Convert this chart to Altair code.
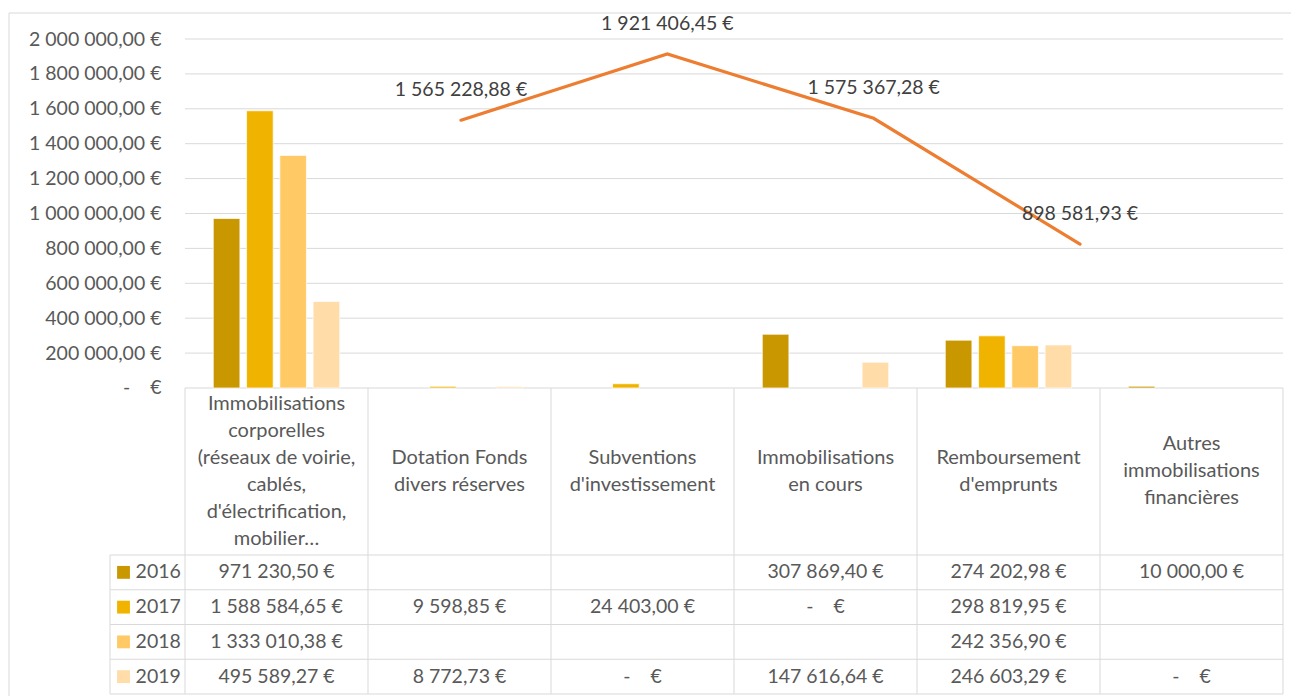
import altair as alt
import pandas as pd

# ---------------- data ----------------
categories = [
    "Immobilisations corporelles (réseaux de voirie, cablés, d'électrification, mobilier…",
    "Dotation Fonds divers réserves",
    "Subventions d'investissement",
    "Immobilisations en cours",
    "Remboursement d'emprunts",
    "Autres immobilisations financières",
]
header_lines = [
    ["Immobilisations", "corporelles", "(réseaux de voirie,", "cablés,", "d'électrification,", "mobilier…"],
    ["Dotation Fonds", "divers réserves"],
    ["Subventions", "d'investissement"],
    ["Immobilisations", "en cours"],
    ["Remboursement", "d'emprunts"],
    ["Autres", "immobilisations", "financières"],
]
years = ["2016", "2017", "2018", "2019"]
v2016 = [971230.50, None, None, 307869.40, 274202.98, 10000.00]
v2017 = [1588584.65, 9598.85, 24403.00, 0.0, 298819.95, None]
v2018 = [1333010.38, None, None, None, 242356.90, None]
v2019 = [495589.27, 8772.73, 0.0, 147616.64, 246603.29, 0.0]
series = [v2016, v2017, v2018, v2019]
total_years = [2016, 2017, 2018, 2019]
totals = [1565228.88, 1921406.45, 1575367.28, 898581.93]
y_ticks = [0, 200000, 400000, 600000, 800000, 1000000, 1200000, 1400000, 1600000, 1800000, 2000000]
year_colors = ["#C99700", "#F0B400", "#FFC966", "#FFDCA8"]

# ---------------- styling / layout ----------------
FONT = "Lato"
FS = 19.5
FS_HEAD = 20
TXT = "#595959"
GRID = "#D9D9D9"
W, H = 1173, 655
ROW_PX = 34.75
LINE_H = 27
NB = "\u00a0"
ZERO_TXT = "-" + NB * 4 + "€"


def fmt(v):
    if v == 0:
        return ZERO_TXT
    s = f"{v:,.2f}".replace(",", NB).replace(".", ",")
    return s + NB + "€"


LEFT_COL = 75 / 183.0              # width of the legend column, in column units
HEADER = 4.806                     # header height, in data-row units
TOP = HEADER + 10.043              # from plot top to header top

bar_rows, cell_rows = [], []
for j, (yr, vals) in enumerate(zip(years, series)):
    for i, (cat, v) in enumerate(zip(categories, vals)):
        if v is None:
            continue
        if v > 0:
            bar_rows.append({"cat": cat, "year": yr, "value": v})
        cell_rows.append({"col": i + 0.5, "row": j + 0.5, "txt": fmt(v)})
bars_df = pd.DataFrame(bar_rows)
cells_df = pd.DataFrame(cell_rows)
head_df = pd.DataFrame({
    "col": [i + 0.5 for i in range(len(categories))],
    "row": [-HEADER / 2 - (len(l) - 1) * LINE_H / 2 / ROW_PX for l in header_lines],
    "lines": header_lines,
})
leg_df = pd.DataFrame({"year": years, "row": [j + 0.5 for j in range(4)]})
line_df = pd.DataFrame({"year": total_years, "total": totals,
                        "label": [fmt(v) for v in totals]})
grid_df = pd.DataFrame({"v": y_ticks[1:]})

# scales
euro_scale = alt.Scale(domain=[-1753582, 2000000], nice=False, zero=False)
col_scale = alt.Scale(domain=[-LEFT_COL, 6], nice=False, zero=False)
row_scale = alt.Scale(domain=[-TOP, 4], nice=False, zero=False, reverse=True)
line_x = alt.Scale(domain=[2014.299, 2019.984], nice=False, zero=False)
line_y = alt.Scale(domain=[-1523100, 2002200], nice=False, zero=False)
color_scale = alt.Scale(domain=years, range=year_colors)

label_expr = ("datum.value == 0 ? '" + ZERO_TXT + "' : replace(replace(format(datum.value, ',.2f'), "
              "regexp(',', 'g'), '" + NB + "'), '.', ',') + '" + NB + "€'")

grid = alt.Chart(grid_df).mark_rule(color=GRID, strokeWidth=1).encode(
    y=alt.Y("v:Q", scale=euro_scale, axis=None),
    x=alt.datum(0, scale=col_scale, type="quantitative", axis=None),
    x2=alt.datum(6),
)

bars = alt.Chart(bars_df).mark_bar(stroke="white", strokeWidth=0.7).encode(
    x=alt.X("cat:N", sort=categories,
            scale=alt.Scale(domain=categories, range=[W - 6 * 183, W], paddingInner=0, paddingOuter=0),
            axis=None),
    xOffset=alt.XOffset("year:N", sort=years,
                        scale=alt.Scale(domain=years, paddingInner=0.2, paddingOuter=0.85)),
    y=alt.Y("value:Q", scale=euro_scale,
            axis=alt.Axis(values=y_ticks, labelExpr=label_expr, offset=-75, labelPadding=24,
                          ticks=False, tickSize=0, domain=False, grid=False, title=None,
                          labelFont=FONT, labelFontSize=FS, labelColor=TXT)),
    color=alt.Color("year:N", scale=color_scale, legend=None),
)

# outer frame (top and left edges) and table borders
frame_h = pd.DataFrame({"y": [-TOP - 26 / ROW_PX], "x1": [-LEFT_COL - 101 / 183.0], "x2": [6 + 20 / 183.0]})
frame_v = pd.DataFrame({"x": [-LEFT_COL - 101 / 183.0], "y1": [-TOP - 26 / ROW_PX], "y2": [4 + 10 / ROW_PX]})
hl_df = pd.DataFrame({"y": [-HEADER, 0, 1, 2, 3, 4],
                      "x1": [0] + [-LEFT_COL] * 5,
                      "x2": [6] * 6})
vl_df = pd.DataFrame({"x": [0, 1, 2, 3, 4, 5, 6, -LEFT_COL],
                      "y1": [-HEADER] * 7 + [0],
                      "y2": [4] * 8})


def hrule(df, color):
    return alt.Chart(df).mark_rule(color=color, strokeWidth=1).encode(
        y=alt.Y("y:Q", scale=row_scale, axis=None),
        x=alt.X("x1:Q", scale=col_scale, axis=None),
        x2="x2:Q",
    )


def vrule(df, color):
    return alt.Chart(df).mark_rule(color=color, strokeWidth=1).encode(
        x=alt.X("x:Q", scale=col_scale, axis=None),
        y=alt.Y("y1:Q", scale=row_scale, axis=None),
        y2="y2:Q",
    )


frame = hrule(frame_h, "#D9D9D9") + vrule(frame_v, "#D9D9D9")
hlines = hrule(hl_df, GRID)
vlines = vrule(vl_df, GRID)

cells = alt.Chart(cells_df).mark_text(font=FONT, fontSize=FS, color=TXT, baseline="middle").encode(
    x=alt.X("col:Q", scale=col_scale, axis=None),
    y=alt.Y("row:Q", scale=row_scale, axis=None),
    text="txt:N",
)
heads = alt.Chart(head_df).mark_text(font=FONT, fontSize=FS_HEAD, color=TXT, baseline="middle",
                                     lineHeight=LINE_H).encode(
    x=alt.X("col:Q", scale=col_scale, axis=None),
    y=alt.Y("row:Q", scale=row_scale, axis=None),
    text="lines",
)
leg_sq = alt.Chart(leg_df).mark_square(size=165, opacity=1).encode(
    x=alt.datum(-0.336, scale=col_scale, type="quantitative", axis=None),
    y=alt.Y("row:Q", scale=row_scale, axis=None),
    color=alt.Color("year:N", scale=color_scale, legend=None),
)
leg_txt = alt.Chart(leg_df).mark_text(font=FONT, fontSize=FS, color=TXT, align="left",
                                      baseline="middle").encode(
    x=alt.datum(-0.27, scale=col_scale, type="quantitative", axis=None),
    y=alt.Y("row:Q", scale=row_scale, axis=None),
    text="year:N",
)

line = alt.Chart(line_df).mark_line(color="#ED7D31", strokeWidth=3.2, strokeCap="round").encode(
    x=alt.X("year:Q", scale=line_x, axis=None),
    y=alt.Y("total:Q", scale=line_y, axis=None),
)
line_lbl = alt.Chart(line_df).mark_text(font=FONT, fontSize=FS, color="#404040", dy=-30,
                                        baseline="middle").encode(
    x=alt.X("year:Q", scale=line_x, axis=None),
    y=alt.Y("total:Q", scale=line_y, axis=None),
    text="label:N",
)

chart = alt.layer(
    frame, grid, hlines, vlines, bars, cells, heads, leg_sq, leg_txt, line, line_lbl
).resolve_scale(
    x="independent", y="independent", color="shared"
).properties(
    width=W, height=H,
    padding={"left": 102, "top": 31, "right": 8, "bottom": 2},
    autosize=alt.AutoSizeParams(type="none"),
).configure_view(strokeWidth=0)

chart.save("out.html", embed_options={"renderer": "svg", "actions": False})
